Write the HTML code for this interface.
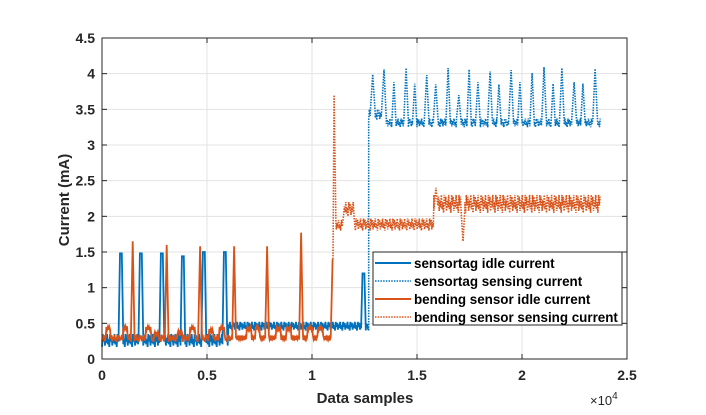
<!DOCTYPE html>
<html><head><meta charset="utf-8"><style>
body{margin:0;background:#fff}
svg{display:block;font-family:"Liberation Sans",sans-serif}
</style></head><body>
<svg id="c" width="706" height="415"></svg>
<script>
// ---- data (samples, mA) ----
const xTicks=[0,0.5,1,1.5,2,2.5];
const yTicks=[0,0.5,1,1.5,2,2.5,3,3.5,4,4.5];
// blue idle segments [x0,x1,lo,hi]
const blueIdleBands=[[0,6000,0.17,0.35],[6000,12300,0.4,0.52],[12300,12700,0.4,0.5]];
const blueIdleSpikes=[[900,1.48],[1850,1.48],[2850,1.48],[3850,1.44],[4850,1.5],[5850,1.5],[12450,1.2]];
// blue sensing
const blueSenseBands=[[12700,13400,3.35,3.5],[13400,23750,3.25,3.37]];
const blueSensePeakX=[12890,13430,13900,14480,14890,15460,15890,16480,16990,17480,17900,18480,18900,19480,19900,20480,21050,21480,21900,22480,22900,23480];
const blueSensePeakV=[3.99,4.06,3.88,4.08,3.86,3.98,3.85,4.08,3.7,4.06,3.88,4.03,3.85,4.05,3.88,4.01,4.09,3.86,4.08,3.88,3.86,4.07];
// orange idle
const orIdleBands=[[0,6200,0.24,0.34],[6200,11000,0.26,0.33]];
const orIdleSpikes=[[1460,1.65],[3080,1.6],[4670,1.58],[6290,1.58],[7860,1.58],[9480,1.77],[10980,1.4]];
const orIdleBumpX=[300,1100,2200,2600,3700,4300,5200,5700,7000,7400,8400,8900,9900,10400];
const orIdleBumpV=[0.45,0.46,0.45,0.38,0.4,0.45,0.42,0.45,0.45,0.45,0.45,0.45,0.45,0.45];
// orange sensing
const orSenseBands=[[11100,11500,1.8,1.95],[11500,12000,2.0,2.2],[12000,15800,1.8,1.97],[15800,23750,2.05,2.3]];
const orSenseSpikes=[[11050,3.7],[15900,2.4],[17190,1.65]];

const svg=document.getElementById('c');
const NS='http://www.w3.org/2000/svg';
const L=102,R=627,T=38,B=359;
const X=v=>L+v/25000*(R-L);
const Y=v=>B-v/4.5*(B-T);
function el(t,a,p){const e=document.createElementNS(NS,t);for(const k in a)e.setAttribute(k,a[k]);(p||svg).appendChild(e);return e;}

yTicks.forEach(v=>{const g=el('line',{x1:L,x2:R,y1:Y(v),y2:Y(v),stroke:'#e3e3e3','stroke-width':1});

});
xTicks.forEach(v=>{const g=el('line',{x1:X(v*1e4),x2:X(v*1e4),y1:T,y2:B,stroke:'#e3e3e3','stroke-width':1});

});

const pat=[0,1,0.4,0.9,0.1,0.7,0.3,1,0.2,0.6];
function build(bands,spikes,bumps,x0,x1,step,hw,flat){
  let xs=[];
  for(let x=x0;x<=x1;x+=step)xs.push(x);
  spikes.forEach(s=>{xs=xs.filter(x=>Math.abs(x-s[0])>=hw);xs.push(s[0]-hw,s[0]-flat,s[0],s[0]+flat,s[0]+hw);});
  xs=xs.filter(x=>x>=x0&&x<=x1).sort((a,b)=>a-b);
  const pts=[];
  xs.forEach((x,k)=>{
    let b=bands.find(b=>x>=b[0]&&x<b[1])||bands[bands.length-1];
    let v=b[2]+(b[3]-b[2])*pat[k%pat.length];
    if(bumps){for(let i=0;i<bumps[0].length;i++){if(Math.abs(x-bumps[0][i])<120)v=Math.max(v,bumps[1][i]-(k%2)*0.04);}}
    for(const s of spikes){const d=Math.abs(x-s[0]);if(d<=flat)v=s[1];else if(d<hw){v=v+(s[1]-v)*(1-(d-flat)/(hw-flat));}}
    pts.push(X(x).toFixed(1)+','+Y(v).toFixed(1));
  });
  return pts.join(' ');
}
const blue='#0072bd',orange='#d95319';
const s1=el('polyline',{points:build(blueIdleBands,blueIdleSpikes,null,0,12700,35,110,45),fill:'none',stroke:blue,'stroke-width':1.8});


const bsp=blueSensePeakX.map((x,i)=>[x,blueSensePeakV[i]]);
const s2=el('polyline',{points:X(12700).toFixed(1)+','+Y(0.4).toFixed(1)+' '+build(blueSenseBands,bsp,null,12700,23750,35,110,0),fill:'none',stroke:blue,'stroke-width':1.6,'stroke-dasharray':'1.5 1.2'});


const s3=el('polyline',{points:build(orIdleBands,orIdleSpikes,[orIdleBumpX,orIdleBumpV],0,11000,35,90,0),fill:'none',stroke:orange,'stroke-width':1.8});


const s4=el('polyline',{points:X(11000).toFixed(1)+','+Y(1.4).toFixed(1)+' '+build(orSenseBands,orSenseSpikes,null,11050,23750,35,90,0),fill:'none',stroke:orange,'stroke-width':1.6,'stroke-dasharray':'1.5 1.2'});



const box=el('rect',{x:L,y:T,width:R-L,height:B-T,fill:'none',stroke:'#262626','stroke-width':1});


yTicks.forEach(v=>{
  el('line',{x1:L,x2:L+5,y1:Y(v),y2:Y(v),stroke:'#262626'});el('line',{x1:R,x2:R-5,y1:Y(v),y2:Y(v),stroke:'#262626'});
  const t=el('text',{x:L-7,y:Y(v)+5,'text-anchor':'end','font-size':14,'font-weight':'bold',fill:'#262626'});t.textContent=String(v);
  
  
});
xTicks.forEach(v=>{
  el('line',{x1:X(v*1e4),x2:X(v*1e4),y1:B,y2:B-5,stroke:'#262626'});el('line',{x1:X(v*1e4),x2:X(v*1e4),y1:T,y2:T+5,stroke:'#262626'});
  const t=el('text',{x:X(v*1e4),y:B+21,'text-anchor':'middle','font-size':14,'font-weight':'bold',fill:'#262626'});t.textContent=String(v);
  
  
});
</script>
<svg width="706" height="415" style="position:absolute;left:0;top:0">
<text x="365" y="403" text-anchor="middle" font-size="15" font-weight="bold" fill="#262626" font-family="Liberation Sans">Data samples</text>
<text transform="translate(69,200) rotate(-90)" text-anchor="middle" font-size="15" font-weight="bold" fill="#262626" font-family="Liberation Sans">Current (mA)</text>
<text x="590" y="405" font-size="13" fill="#262626" font-family="Liberation Sans">×10<tspan dy="-6" font-size="10">4</tspan></text>
<g font-family="Liberation Sans" font-size="13.4" font-weight="bold" fill="#000">
<rect x="373" y="252" width="249" height="73" fill="#fff" stroke="#262626" stroke-width="1"/>
<g><line x1="375" x2="411" y1="263" y2="263" stroke="#0072bd" stroke-width="2"/><text x="414" y="268">sensortag idle current</text></g>
<g><line x1="375" x2="411" y1="281" y2="281" stroke="#0072bd" stroke-width="1.6" stroke-dasharray="1.5 1.2"/><text x="414" y="286">sensortag sensing current</text></g>
<g><line x1="375" x2="411" y1="299" y2="299" stroke="#d95319" stroke-width="2"/><text x="414" y="304">bending sensor idle current</text></g>
<g><line x1="375" x2="411" y1="317" y2="317" stroke="#d95319" stroke-width="1.6" stroke-dasharray="1.5 1.2"/><text x="414" y="322">bending sensor sensing current</text></g>
</g>
</svg>
</body></html>
